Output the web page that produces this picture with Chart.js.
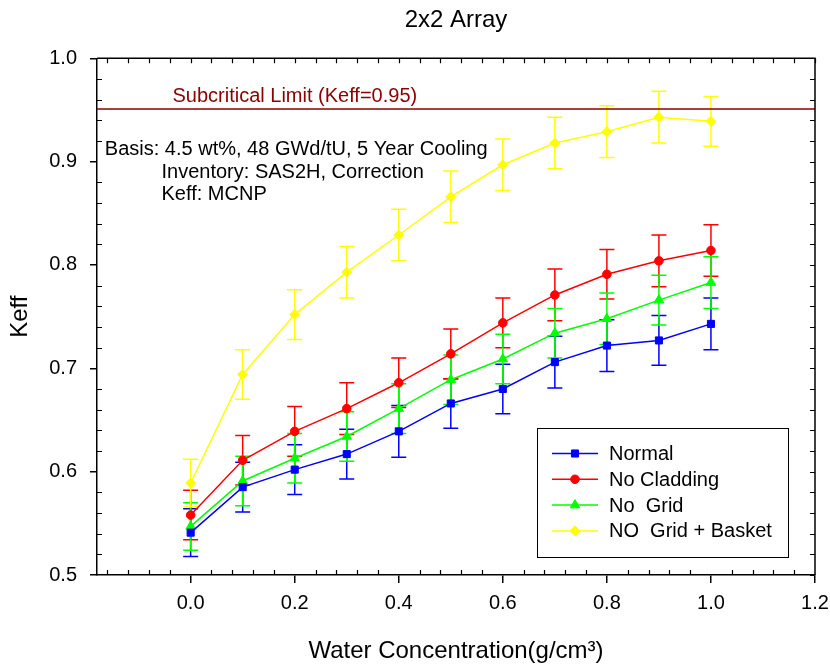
<!DOCTYPE html>
<html>
<head>
<meta charset="utf-8">
<script src="https://cdn.jsdelivr.net/npm/chart.js@4.4.1/dist/chart.umd.min.js"></script>
<style>
html, body { margin: 0; padding: 0; background: #fff; }
</style>
</head>
<body>
<canvas id="graph" width="830" height="669"></canvas>
<script>
// water concentration (g/cm3)
var waterConc = [0.0, 0.1, 0.2, 0.3, 0.4, 0.5, 0.6, 0.7, 0.8, 0.9, 1.0];

// keff per case
var keffNormal     = [0.541, 0.585, 0.602, 0.617, 0.639, 0.666, 0.680, 0.706, 0.722, 0.727, 0.743];
var keffNoCladding = [0.558, 0.611, 0.639, 0.661, 0.686, 0.714, 0.744, 0.771, 0.791, 0.804, 0.814];
var keffNoGrid     = [0.547, 0.591, 0.613, 0.634, 0.661, 0.689, 0.709, 0.734, 0.748, 0.766, 0.783];
var keffBasket     = [0.589, 0.694, 0.752, 0.793, 0.829, 0.866, 0.897, 0.918, 0.929, 0.943, 0.939];

// error bar half heights
var errNormal     = [0.023, 0.024, 0.024, 0.024, 0.025, 0.024, 0.024, 0.025, 0.025, 0.024, 0.025];
var errNoCladding = [0.024, 0.024, 0.024, 0.025, 0.024, 0.024, 0.024, 0.025, 0.024, 0.025, 0.025];
var errNoGrid     = [0.023, 0.024, 0.024, 0.024, 0.024, 0.024, 0.024, 0.024, 0.025, 0.024, 0.025];
var errBasket     = [0.023, 0.024, 0.024, 0.025, 0.025, 0.025, 0.025, 0.025, 0.025, 0.025, 0.024];

var seriesNames = ["Normal", "No Cladding", "No  Grid", "NO  Grid + Basket"];
var seriesColors = ["#0000ff", "#ff0000", "#00ff00", "#ffff00"];
var seriesShapes = ["rect", "circle", "triangle", "rectRot"];
var seriesRadius = [5, 4.3, 5.5, 5];
var seriesValues = [keffNormal, keffNoCladding, keffNoGrid, keffBasket];
var seriesErrors = [errNormal, errNoCladding, errNoGrid, errBasket];

var xTicks = [0.0, 0.2, 0.4, 0.6, 0.8, 1.0, 1.2];
var yTicks = [0.5, 0.6, 0.7, 0.8, 0.9, 1.0];
var xMin = -0.18, xMax = 1.2;
var xMinorStep = 0.04, yMinorStep = 0.02;

var subcriticalLimit = 0.951;
var limitLabel = "Subcritical Limit (Keff=0.95)";
var basisLines = ["Basis: 4.5 wt%, 48 GWd/tU, 5 Year Cooling", "Inventory: SAS2H, Correction", "Keff: MCNP"];

var FONT = '"Liberation Sans", Arial, sans-serif';
Chart.defaults.font.family = FONT;
Chart.defaults.color = "#000";

var datasets = seriesNames.map(function (name, i) {
  return {
    label: name,
    data: waterConc.map(function (x, j) { return { x: x, y: seriesValues[i][j] }; }),
    borderColor: seriesColors[i],
    backgroundColor: seriesColors[i],
    borderWidth: 1.5,
    pointStyle: seriesShapes[i],
    pointRadius: seriesRadius[i],
    pointBorderWidth: 1,
    tension: 0
  };
});
datasets.push({
  label: "limit",
  data: [{ x: xMin, y: subcriticalLimit }, { x: xMax, y: subcriticalLimit }],
  borderColor: "#8b0000",
  borderWidth: 1.5,
  pointRadius: 0
});

var errorBars = {
  id: "errorBars",
  beforeDatasetsDraw: function (chart) {
    var ctx = chart.ctx, xs = chart.scales.x, ys = chart.scales.y;
    ctx.save();
    ctx.lineWidth = 1.5;
    seriesValues.forEach(function (vals, i) {
      ctx.strokeStyle = seriesColors[i];
      vals.forEach(function (v, j) {
        var px = xs.getPixelForValue(waterConc[j]);
        var top = ys.getPixelForValue(v + seriesErrors[i][j]);
        var bot = ys.getPixelForValue(v - seriesErrors[i][j]);
        ctx.beginPath();
        ctx.moveTo(px, top); ctx.lineTo(px, bot);
        ctx.moveTo(px - 7.5, top); ctx.lineTo(px + 7.5, top);
        ctx.moveTo(px - 7.5, bot); ctx.lineTo(px + 7.5, bot);
        ctx.stroke();
      });
    });
    ctx.restore();
  }
};

var frameAndText = {
  id: "frameAndText",
  afterDraw: function (chart) {
    var ctx = chart.ctx, a = chart.chartArea, xs = chart.scales.x, ys = chart.scales.y;
    ctx.save();
    ctx.strokeStyle = "#000";
    ctx.lineWidth = 1.5;
    ctx.beginPath();
    ctx.moveTo(a.left, a.top); ctx.lineTo(a.right, a.top); ctx.lineTo(a.right, a.bottom);
    ctx.stroke();

    // minor / inner ticks
    ctx.lineWidth = 1.2;
    ctx.beginPath();
    var n, v, p;
    for (n = Math.ceil(xMin / xMinorStep); n * xMinorStep <= xMax + 1e-9; n++) {
      v = n * xMinorStep;
      p = Math.round(xs.getPixelForValue(v)) + 0.5;
      ctx.moveTo(p, a.top); ctx.lineTo(p, a.top + 5);
      if (Math.abs(v / 0.2 - Math.round(v / 0.2)) > 1e-6) {
        ctx.moveTo(p, a.bottom); ctx.lineTo(p, a.bottom - 5);
      }
    }
    for (n = 25; n <= 50; n++) {
      v = n * yMinorStep;
      p = Math.round(ys.getPixelForValue(v)) + 0.5;
      ctx.moveTo(a.right, p); ctx.lineTo(a.right - 5, p);
      if (n % 5 !== 0) {
        ctx.moveTo(a.left, p); ctx.lineTo(a.left + 5, p);
      }
    }
    ctx.stroke();

    // annotations
    var lineY = ys.getPixelForValue(subcriticalLimit);
    ctx.font = "20px " + FONT;
    ctx.textBaseline = "alphabetic";
    ctx.textAlign = "left";
    ctx.fillStyle = "#8b0000";
    ctx.fillText(limitLabel, xs.getPixelForValue(-0.035), lineY - 7);
    ctx.fillStyle = "#000";
    ctx.fillText(basisLines[0], xs.getPixelForValue(-0.165), ys.getPixelForValue(0.906));
    ctx.fillText(basisLines[1], xs.getPixelForValue(-0.056), ys.getPixelForValue(0.906) + 22.5);
    ctx.fillText(basisLines[2], xs.getPixelForValue(-0.056), ys.getPixelForValue(0.906) + 45);

    // legend box
    var bx = 537, by = 428, bw = 251, bh = 129;
    ctx.strokeStyle = "#000";
    ctx.lineWidth = 1;
    ctx.strokeRect(bx + 0.5, by + 0.5, bw, bh);
    seriesNames.forEach(function (name, i) {
      var ry = by + 25.5 + i * 25.8;
      ctx.strokeStyle = seriesColors[i];
      ctx.fillStyle = seriesColors[i];
      ctx.lineWidth = 1.5;
      ctx.beginPath();
      ctx.moveTo(bx + 15, ry); ctx.lineTo(bx + 61, ry);
      ctx.stroke();
      ctx.lineWidth = 1;
      Chart.helpers.drawPoint(ctx, { pointStyle: seriesShapes[i], radius: seriesRadius[i], rotation: 0, borderWidth: 1 }, bx + 38, ry);
      ctx.fillStyle = "#000";
      ctx.textBaseline = "middle";
      ctx.fillText(name, bx + 72, ry + 1);
    });
    ctx.restore();
  }
};

var config = {
  type: "line",
  data: { datasets: datasets },
  options: {
    responsive: false,
    animation: false,
    devicePixelRatio: 1,
    layout: { padding: { left: 0, right: 15, top: 0, bottom: 0 } },
    scales: {
      x: {
        type: "linear",
        min: xMin,
        max: xMax,
        afterBuildTicks: function (s) { s.ticks = xTicks.map(function (v) { return { value: v }; }); },
        afterFit: function (s) { s.height = 94; s.paddingRight = 0; s.paddingLeft = 0; },
        ticks: {
          autoSkip: false,
          maxRotation: 0,
          padding: 8,
          font: { size: 20 },
          callback: function (v) { return v.toFixed(1); }
        },
        grid: { drawOnChartArea: false, tickLength: 8, color: "#000", lineWidth: 1.5 },
        border: { display: true, color: "#000", width: 1.5 },
        title: { display: true, text: "Water Concentration(g/cm\u00b3)", font: { size: 24 }, padding: { top: 0, bottom: 3 } }
      },
      y: {
        type: "linear",
        min: 0.5,
        max: 1.0,
        afterBuildTicks: function (s) { s.ticks = yTicks.map(function (v) { return { value: v }; }); },
        afterFit: function (s) { s.width = 97; s.paddingTop = 0; s.paddingBottom = 0; },
        ticks: {
          padding: 13,
          font: { size: 20 },
          callback: function (v) { return v.toFixed(1); }
        },
        grid: { drawOnChartArea: false, tickLength: 7, color: "#000", lineWidth: 1.5 },
        border: { display: true, color: "#000", width: 1.5 },
        title: { display: true, text: "Keff", font: { size: 24 }, padding: { top: 6, bottom: 0 } }
      }
    },
    plugins: {
      legend: { display: false },
      tooltip: { enabled: false },
      title: {
        display: true,
        fullSize: false,
        text: "2x2 Array",
        font: { size: 24, weight: "normal" },
        color: "#000",
        padding: { top: 6, bottom: 23.5 }
      }
    }
  },
  plugins: [errorBars, frameAndText]
};

new Chart(document.getElementById("graph"), config);
</script>
</body>
</html>
